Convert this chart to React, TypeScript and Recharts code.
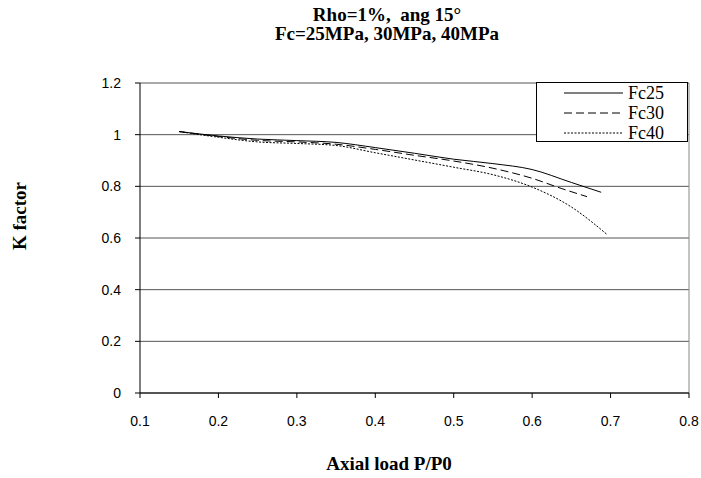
import { LineChart, Line, XAxis, YAxis, CartesianGrid, ReferenceLine } from "recharts";

const X_TICKS = [0.1, 0.2, 0.3, 0.4, 0.5, 0.6, 0.7, 0.8];
const Y_TICKS = [0, 0.2, 0.4, 0.6, 0.8, 1, 1.2];

const FC25_X = [0.15, 0.2, 0.25, 0.3, 0.35, 0.4, 0.45, 0.5, 0.55, 0.6, 0.65, 0.688];
const FC25_Y = [1.012, 0.995, 0.983, 0.977, 0.97, 0.95, 0.928, 0.905, 0.888, 0.865, 0.815, 0.777];

const FC30_X = [0.15, 0.2, 0.25, 0.3, 0.35, 0.4, 0.45, 0.5, 0.55, 0.6, 0.637, 0.67];
const FC30_Y = [1.012, 0.993, 0.978, 0.972, 0.963, 0.943, 0.92, 0.898, 0.87, 0.831, 0.792, 0.76];

const FC40_X = [0.15, 0.2, 0.25, 0.3, 0.35, 0.4, 0.45, 0.5, 0.55, 0.6, 0.65, 0.695];
const FC40_Y = [1.012, 0.99, 0.972, 0.966, 0.958, 0.93, 0.902, 0.874, 0.845, 0.797, 0.72, 0.615];

const toPoints = (xs: number[], ys: number[]) => xs.map((x, i) => ({ x, k: ys[i] }));

const SERIES = [
  { name: "Fc25", data: toPoints(FC25_X, FC25_Y), dash: undefined as string | undefined },
  { name: "Fc30", data: toPoints(FC30_X, FC30_Y), dash: "8 4" },
  { name: "Fc40", data: toPoints(FC40_X, FC40_Y), dash: "2 1.5" },
];

const serif = '"Liberation Serif", "Times New Roman", serif';
const sans = '"Liberation Sans", Arial, sans-serif';

// legend drawn by hand so it doesn't eat into the plot area
function LegendBox() {
  return (
    <div
      style={{
        position: "absolute",
        left: 536,
        top: 82,
        width: 150,
        height: 58,
        border: "1px solid #000",
        background: "#fff",
        fontFamily: serif,
        fontSize: 18,
      }}
    >
      {SERIES.map((s) => (
        <div key={s.name} style={{ display: "flex", alignItems: "center", height: 20 }}>
          <svg width={86} height={20} style={{ flex: "none" }}>
            <line x1={27} x2={86} y1={10} y2={10} stroke="#000" strokeWidth={1} strokeDasharray={s.dash} />
          </svg>
          <span style={{ marginLeft: 5, lineHeight: "20px" }}>{s.name}</span>
        </div>
      ))}
    </div>
  );
}

export default function App() {
  return (
    <div style={{ position: "absolute", left: 0, top: 0, width: 701, height: 478, background: "#fff" }}>
      <LineChart width={701} height={478} margin={{ top: 83, right: 12, left: 100, bottom: 45 }}>
        <CartesianGrid vertical={false} stroke="#555" />
        <XAxis
          type="number"
          dataKey="x"
          domain={[0.1, 0.8]}
          ticks={X_TICKS}
          tickFormatter={(v: number) => String(v)}
          tick={{ fontSize: 14, fill: "#000", fontFamily: sans }}
          tickLine={{ stroke: "#000" }}
          axisLine={{ stroke: "#000" }}
          tickSize={5}
          tickMargin={18}
          height={40}
        />
        <YAxis
          type="number"
          domain={[0, 1.2]}
          ticks={Y_TICKS}
          tickFormatter={(v: number) => String(v)}
          tick={{ fontSize: 14, fill: "#000", fontFamily: sans }}
          tickLine={{ stroke: "#000" }}
          axisLine={{ stroke: "#000" }}
          tickSize={5}
          tickMargin={14}
          width={40}
        />
        <ReferenceLine x={0.8} stroke="#888" />
        {SERIES.map((s) => (
          <Line
            key={s.name}
            data={s.data}
            dataKey="k"
            name={s.name}
            type="monotone"
            stroke="#000"
            strokeWidth={1}
            strokeDasharray={s.dash}
            dot={false}
            isAnimationActive={false}
          />
        ))}
      </LineChart>

      <LegendBox />

      <div
        style={{
          position: "absolute",
          left: 387,
          top: 5,
          transform: "translateX(-50%)",
          fontFamily: serif,
          fontWeight: "bold",
          fontSize: 19,
          lineHeight: "19px",
          textAlign: "center",
          whiteSpace: "pre",
        }}
      >
        {"Rho=1%,  ang 15°\nFc=25MPa, 30MPa, 40MPa"}
      </div>
      <div
        style={{
          position: "absolute",
          left: 389,
          top: 454,
          transform: "translateX(-50%)",
          fontFamily: serif,
          fontWeight: "bold",
          fontSize: 19,
          lineHeight: "19px",
          whiteSpace: "nowrap",
        }}
      >
        Axial load P/P0
      </div>
      <div
        style={{
          position: "absolute",
          left: 18.5,
          top: 216,
          transform: "translate(-50%, -50%) rotate(-90deg)",
          fontFamily: serif,
          fontWeight: "bold",
          fontSize: 19,
          lineHeight: "19px",
          whiteSpace: "nowrap",
        }}
      >
        K factor
      </div>
    </div>
  );
}
